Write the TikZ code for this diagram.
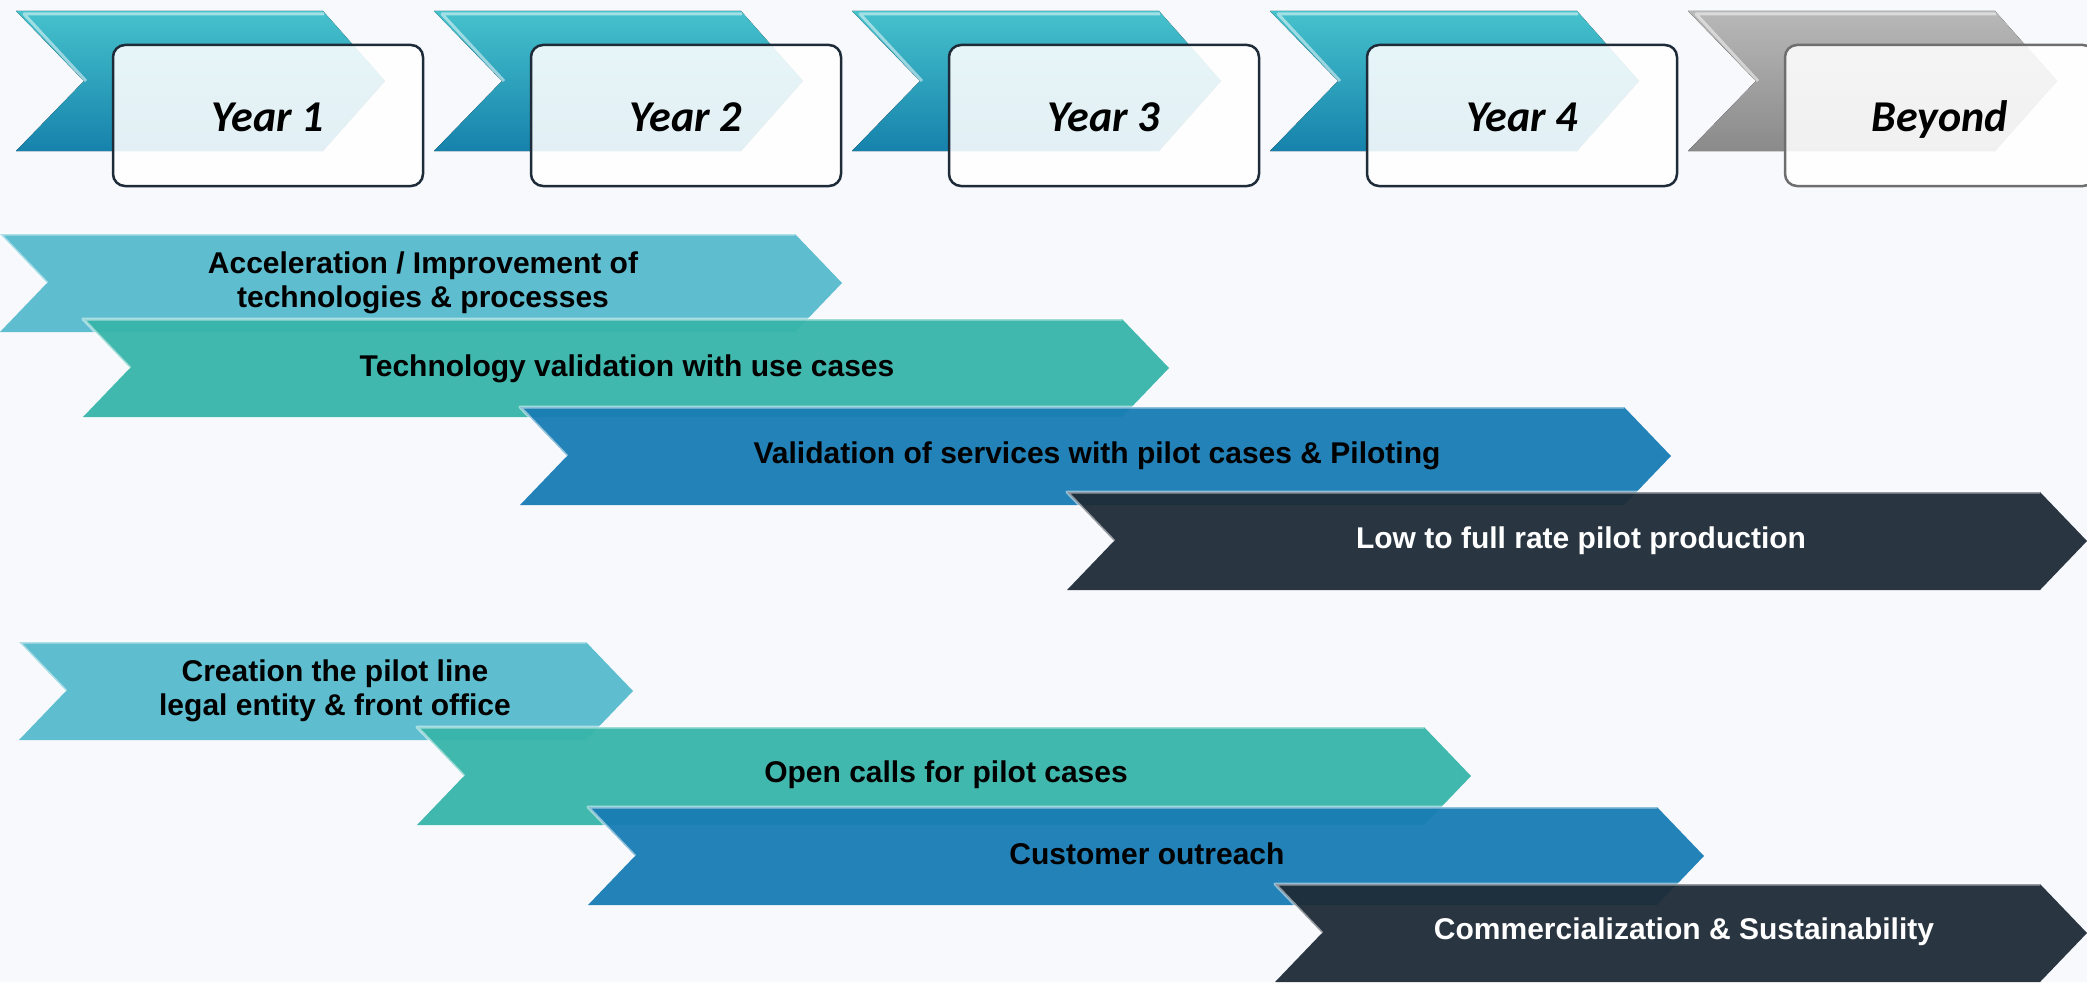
\documentclass[tikz,border=0pt]{standalone}
\usepackage{xcolor}
\usepackage{fontspec}
\setmainfont{Liberation Sans}
\newfontfamily\carlito{Carlito}
\usepackage{tikz}

\definecolor{pagebg}{RGB}{248,249,253}
\definecolor{chevtop}{RGB}{70,194,204}
\definecolor{chevbot}{RGB}{22,130,172}
\definecolor{greytop}{RGB}{184,184,184}
\definecolor{greybot}{RGB}{138,138,138}
\definecolor{boxline}{RGB}{30,44,58}
\definecolor{greyline}{RGB}{110,110,110}
\definecolor{lightbar}{RGB}{86,187,206}
\definecolor{tealbar}{RGB}{56,181,170}
\definecolor{bluebar}{RGB}{24,124,180}
\definecolor{darkbar}{RGB}{30,44,56}

\newcommand{\yearfnt}{\carlito\fontsize{44}{50}\selectfont\bfseries\itshape}
\newcommand{\barfnt}{\fontsize{30}{34}\selectfont\bfseries}

\begin{document}
\begin{tikzpicture}[x=1pt, y=-1pt,
	yearchev/.style={top color=chevtop, bottom color=chevbot, draw=none},
	greychev/.style={top color=greytop, bottom color=greybot, draw=none},
	shine/.style={draw=white, draw opacity=0.5, line width=3pt, line join=round},
	yearbox/.style={fill=white, fill opacity=0.88, draw=#1, draw opacity=1, line width=2.5pt, rounded corners=12pt},
	yeartext/.style={font=\yearfnt, text=black, anchor=base},
	barfill/.style={fill=#1, fill opacity=0.95},
	bartext/.style={font=\barfnt, align=center, text=#1}]
			\useasboundingbox (0,0) rectangle (2087,982);
			\fill [pagebg] (0,0) rectangle (2087,982);
			
			% years
			\fill [yearchev] (16,11) -- ++(307,0) -- ++(62,70) -- ++(-62,70) -- ++(-307,0) -- ++(68,-70) -- cycle;
			\draw [shine] (86,81) -- ++(-62,-67) -- ++(300,0);
			\draw [yearbox=boxline] (113,45) rectangle (423,186);
			\node [yeartext] (y1) at (268,131) {Year 1};
			
			\fill [yearchev] (434,11) -- ++(307,0) -- ++(62,70) -- ++(-62,70) -- ++(-307,0) -- ++(68,-70) -- cycle;
			\draw [shine] (504,81) -- ++(-62,-67) -- ++(300,0);
			\draw [yearbox=boxline] (531,45) rectangle (841,186);
			\node [yeartext] (y2) at (686,131) {Year 2};
			
			\fill [yearchev] (852,11) -- ++(307,0) -- ++(62,70) -- ++(-62,70) -- ++(-307,0) -- ++(68,-70) -- cycle;
			\draw [shine] (922,81) -- ++(-62,-67) -- ++(300,0);
			\draw [yearbox=boxline] (949,45) rectangle (1259,186);
			\node [yeartext] (y3) at (1104,131) {Year 3};
			
			\fill [yearchev] (1270,11) -- ++(307,0) -- ++(62,70) -- ++(-62,70) -- ++(-307,0) -- ++(68,-70) -- cycle;
			\draw [shine] (1340,81) -- ++(-62,-67) -- ++(300,0);
			\draw [yearbox=boxline] (1367,45) rectangle (1677,186);
			\node [yeartext] (y4) at (1522,131) {Year 4};
			
			\fill [greychev] (1688,11) -- ++(307,0) -- ++(62,70) -- ++(-62,70) -- ++(-307,0) -- ++(68,-70) -- cycle;
			\draw [shine] (1758,81) -- ++(-62,-67) -- ++(300,0);
			\draw [yearbox=greyline] (1785,45) rectangle (2095,186);
			\node [yeartext] (yb) at (1940,131) {Beyond};
			
			% technical track
			\fill [barfill=lightbar] (0,234) -- ++(795,0) -- ++(47,49) -- ++(-47,49) -- ++(-795,0) -- ++(47,-49) -- cycle;
			\draw [shine] (47,283) -- ++(-47,-49) -- ++(795,0);
			\node [bartext=black] (accel) at (423,283) {Acceleration / Improvement of\\technologies \& processes};
			
			\fill [barfill=tealbar] (83,319) -- ++(1039,0) -- ++(47,49) -- ++(-47,49) -- ++(-1039,0) -- ++(47,-49) -- cycle;
			\draw [shine] (130,368) -- ++(-47,-49) -- ++(1039,0);
			\node [bartext=black] (techval) at (627,369) {Technology validation with use cases};
			
			\fill [barfill=bluebar] (520,407) -- ++(1104,0) -- ++(47,49) -- ++(-47,49) -- ++(-1104,0) -- ++(47,-49) -- cycle;
			\draw [shine] (567,456) -- ++(-47,-49) -- ++(1104,0);
			\node [bartext=black] (servval) at (1097,456) {Validation of services with pilot cases \& Piloting};
			
			\fill [barfill=darkbar] (1067,492) -- ++(973,0) -- ++(47,49) -- ++(-47,49) -- ++(-973,0) -- ++(47,-49) -- cycle;
			\draw [shine] (1114,541) -- ++(-47,-49) -- ++(973,0);
			\node [bartext=white] (prod) at (1581,541) {Low to full rate pilot production};
			
			% business track
			\fill [barfill=lightbar] (19,642) -- ++(567,0) -- ++(47,49) -- ++(-47,49) -- ++(-567,0) -- ++(47,-49) -- cycle;
			\draw [shine] (66,691) -- ++(-47,-49) -- ++(567,0);
			\node [bartext=black] (entity) at (335,691) {Creation the pilot line\\legal entity \& front office};
			
			\fill [barfill=tealbar] (417,727) -- ++(1007,0) -- ++(47,49) -- ++(-47,49) -- ++(-1007,0) -- ++(47,-49) -- cycle;
			\draw [shine] (464,776) -- ++(-47,-49) -- ++(1007,0);
			\node [bartext=black] (calls) at (946,775) {Open calls for pilot cases};
			
			\fill [barfill=bluebar] (588,807) -- ++(1069,0) -- ++(47,49) -- ++(-47,49) -- ++(-1069,0) -- ++(47,-49) -- cycle;
			\draw [shine] (635,856) -- ++(-47,-49) -- ++(1069,0);
			\node [bartext=black] (outreach) at (1147,854) {Customer outreach};
			
			\fill [barfill=darkbar] (1275,884) -- ++(765,0) -- ++(47,49) -- ++(-47,49) -- ++(-765,0) -- ++(47,-49) -- cycle;
			\draw [shine] (1322,933) -- ++(-47,-49) -- ++(765,0);
			\node [bartext=white] (commerce) at (1684,932) {Commercialization \& Sustainability};
\end{tikzpicture}
\end{document}
